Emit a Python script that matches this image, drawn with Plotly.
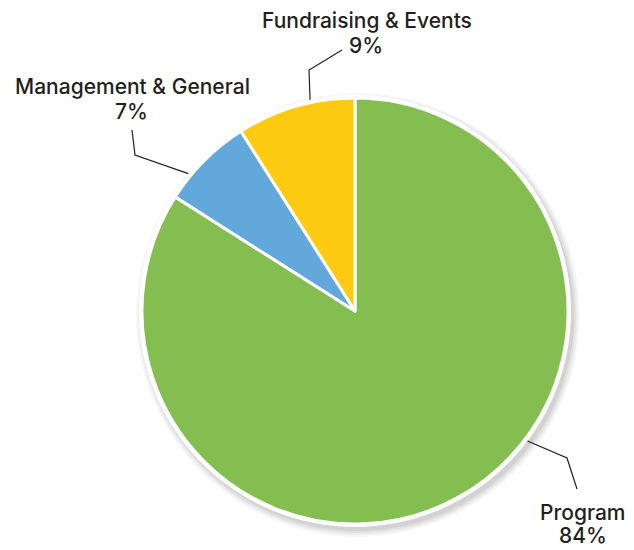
import math
import plotly.graph_objects as go

# ---- data ----
categories = ["Program", "Management & General", "Fundraising & Events"]
values = [84, 7, 9]
colors = ["#84BD50", "#62A8DB", "#FECB12"]

# ---- layout constants (pixels) ----
W, H = 634, 550
CX, CY, R = 355, 311, 213
FONT = "Inter"
FONT_SIZE = 21
TEXT_COLOR = "#231F20"

# leader line geometry: attach angle (deg clockwise from top), elbow, end; label centre
leaders = {
    "Program": dict(angle=127, elbow=(567, 458), end=(577, 489), name_xy=(583, 512), pct_xy=(583, 535)),
    "Management & General": dict(angle=309.5, elbow=(135, 155), end=(132, 130), name_xy=(132, 86), pct_xy=(131, 112)),
    "Fundraising & Events": dict(angle=348, elbow=(309, 70), end=(342, 50), name_xy=(367, 20), pct_xy=(366, 46)),
}


def px(x):
    return x / W


def py(y):
    return 1 - y / H


fig = go.Figure(
    go.Pie(
        labels=categories,
        values=values,
        marker=dict(colors=colors, line=dict(color="white", width=3)),
        sort=False,
        direction="clockwise",
        rotation=0,
        textinfo="none",
        hoverinfo="label+percent",
        domain=dict(x=[px(CX - R), px(CX + R)], y=[py(CY + R), py(CY - R)]),
    )
)

shapes = []
# soft drop shadow behind the pie
for extra, op in ((9, 0.03), (7, 0.04), (5, 0.05), (3, 0.06)):
    ox, oy = 3, 4
    shapes.append(dict(type="circle", xref="paper", yref="paper", layer="below",
                       x0=px(CX + ox - R - extra), x1=px(CX + ox + R + extra),
                       y0=py(CY + oy + R + extra), y1=py(CY + oy - R - extra),
                       fillcolor=f"rgba(0,0,0,{op})", line=dict(width=0)))
# white rim
shapes.append(dict(type="circle", xref="paper", yref="paper", layer="below",
                   x0=px(CX - R - 3), x1=px(CX + R + 3),
                   y0=py(CY + R + 3), y1=py(CY - R - 3),
                   fillcolor="white", line=dict(width=0)))

annotations = []
total = sum(values)
for cat, val in zip(categories, values):
    g = leaders[cat]
    a = math.radians(g["angle"])
    sx = CX + (R + 3) * math.sin(a)
    sy = CY - (R + 3) * math.cos(a)
    ex, ey = g["elbow"]
    tx, ty = g["end"]
    path = f"M {px(sx)} {py(sy)} L {px(ex)} {py(ey)} L {px(tx)} {py(ty)}"
    shapes.append(dict(type="path", path=path, xref="paper", yref="paper",
                       line=dict(color="#231F20", width=1.2)))
    pct = round(val / total * 100)
    for txt, (lx, ly) in ((cat, g["name_xy"]), (f"{pct}%", g["pct_xy"])):
        annotations.append(dict(text=txt, x=px(lx), y=py(ly),
                                xref="paper", yref="paper", showarrow=False,
                                xanchor="center", yanchor="middle",
                                font=dict(family=FONT, size=FONT_SIZE, color=TEXT_COLOR, weight=500)))

fig.update_layout(
    width=W, height=H,
    margin=dict(l=0, r=0, t=0, b=0),
    paper_bgcolor="white", plot_bgcolor="white",
    showlegend=False,
    shapes=shapes,
    annotations=annotations,
)

fig.write_html("out.html", config={"displayModeBar": False},
               post_script="document.body.style.margin='0';")
